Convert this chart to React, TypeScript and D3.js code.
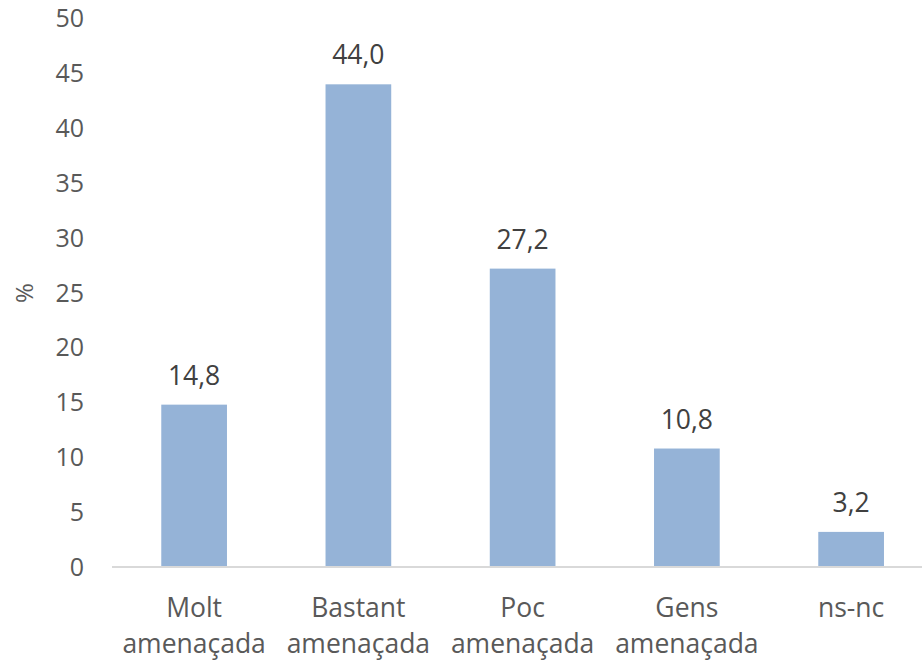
import React from "react";
import * as d3 from "d3";

const categories = [["Molt", "amenaçada"], ["Bastant", "amenaçada"], ["Poc", "amenaçada"], ["Gens", "amenaçada"], ["ns-nc"]];
const values = [14.8, 44.0, 27.2, 10.8, 3.2];
const yTicks = [0, 5, 10, 15, 20, 25, 30, 35, 40, 45, 50];

const W = 922, H = 662;
const FONT = "'Open Sans', 'Noto Sans', sans-serif";
const TXT = "#595959";

export default function App() {
  const keys = categories.map((c) => c.join(" "));
  const x = d3.scaleBand<string>().domain(keys).range([112, 933.25]).paddingInner(0.6).paddingOuter(0.3);
  const y = d3.scaleLinear().domain([0, 50]).range([567, 18.5]);
  const fmt = (v: number) => v.toFixed(1).replace(".", ",");
  return (
    <svg width={W} height={H} style={{ position: "absolute", left: 0, top: 0, background: "#fff" }} fontFamily={FONT}>
      {yTicks.map((t) => (
        <text key={t} x={84} y={y(t)} dy="0.35em" textAnchor="end" fontSize={25} fill={TXT}>{t}</text>
      ))}
      <text transform={`translate(33,${293}) rotate(-90)`} textAnchor="middle" fontSize={24} fill={TXT}>%</text>
      {values.map((v, i) => (
        <rect key={i} x={x(keys[i])} y={y(v)} width={x.bandwidth()} height={y(0) - y(v)} fill="#95B3D7" />
      ))}
      <line x1={112} x2={W} y1={567} y2={567} stroke="#D9D9D9" strokeWidth={2} />
      {values.map((v, i) => (
        <text key={i} x={(x(keys[i]) as number) + x.bandwidth() / 2} y={y(v) - 20} textAnchor="middle" fontSize={26.5} fill="#404040">{fmt(v)}</text>
      ))}
      {categories.map((c, i) => (
        <text key={i} x={(x(keys[i]) as number) + x.bandwidth() / 2} y={617} textAnchor="middle" fontSize={26.5} fill={TXT}>
          {c.map((line, j) => (
            <tspan key={j} x={(x(keys[i]) as number) + x.bandwidth() / 2} dy={j === 0 ? 0 : 36}>{line}</tspan>
          ))}
        </text>
      ))}
    </svg>
  );
}
